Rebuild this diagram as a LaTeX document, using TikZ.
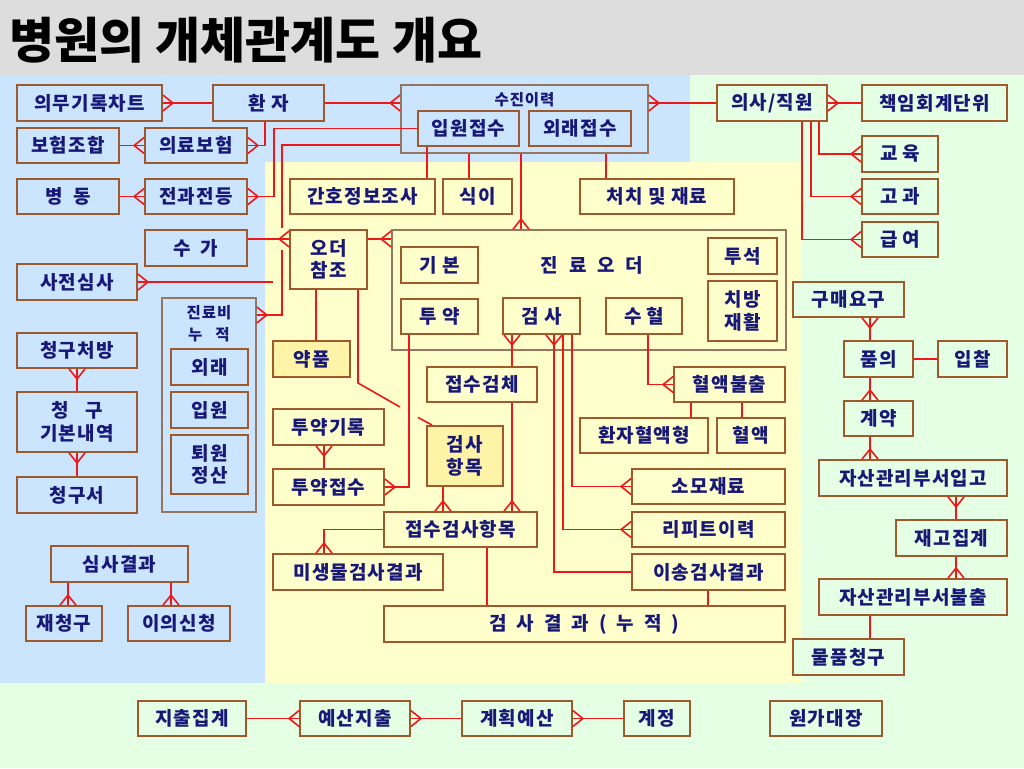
\documentclass[tikz,border=0pt]{standalone}
\usepackage{fontspec}
\newfontfamily\krfont[LetterSpace=6]{Noto Sans CJK KR}
\newfontfamily\headfont{Noto Sans CJK KR}

\definecolor{headgray}{RGB}{221,221,221}
\definecolor{bluebg}{RGB}{204,229,255}
\definecolor{yellowbg}{RGB}{255,255,204}
\definecolor{greenbg}{RGB}{228,255,228}
\definecolor{drugfill}{RGB}{255,243,168}
\definecolor{boxline}{RGB}{158,90,44}
\definecolor{frameline}{RGB}{150,118,96}
\definecolor{ink}{RGB}{24,24,120}
\definecolor{relred}{RGB}{238,24,24}

% Crow's foot for the "many" end of a link.
\pgfdeclarearrow{
  name = crow,
  setup code = {
    \pgfarrowssettipend{0pt}
    \pgfarrowssetlineend{0pt}
    \pgfarrowssetbackend{-10pt}
    \pgfarrowssetvisualbackend{-10pt}
    \pgfarrowshullpoint{0pt}{8pt}
    \pgfarrowshullpoint{0pt}{-8pt}
    \pgfarrowshullpoint{-10pt}{0pt}
  },
  drawing code = {
    \pgfpathmoveto{\pgfqpoint{0pt}{8pt}}
    \pgfpathlineto{\pgfqpoint{-10pt}{0pt}}
    \pgfpathlineto{\pgfqpoint{0pt}{-8pt}}
    \pgfusepathqstroke
  }
}

\begin{document}
\begin{tikzpicture}[x=1pt,y=-1pt,
    boxfont/.style={font=\krfont\bfseries\fontsize{19}{22.5}\selectfont},
    ebox/.style={boxfont,draw=boxline,line width=1.8pt,text=ink,inner sep=0pt,align=center},
    frame/.style={draw=frameline,line width=1.6pt,inner sep=0pt},
    tag/.style={text=ink,inner sep=0pt,align=center,font=\krfont\bfseries\fontsize{15.5}{22}\selectfont},
    rel/.style={draw=relred,line width=1.6pt}]

\useasboundingbox (0,0) rectangle (1024,768);

% Backdrop: header strip and the three zones.
\fill[headgray] (0,0) rectangle (1024,75);
\fill[greenbg] (0,75) rectangle (1024,768);
\fill[bluebg] (0,75) rectangle (690,162);
\fill[bluebg] (0,162) rectangle (265,683);
\fill[yellowbg] (265,162) rectangle (802,683);

% Title.
\node[anchor=west,inner sep=0pt,font=\headfont\bfseries\fontsize{49}{49}\selectfont] (title) at (9,40) {병원의 개체관계도 개요};

% Group frames.
\node[frame,minimum width=247,minimum height=68,
    label={[tag,anchor=north,yshift=-8pt]north:수진이력}] (visit) at (524.5,119) {};
\node[frame,minimum width=394,minimum height=120,
    label={[tag,boxfont,anchor=center,xshift=3pt,yshift=-36pt]north:{진\hspace{11pt}료\hspace{11pt}오\hspace{11pt}더}}] (order) at (589,290) {};
\node[frame,minimum width=94,minimum height=214,
    label={[tag,anchor=north,yshift=-8pt]north:{진료비\\누\hspace{13pt}적}}] (cost) at (209,405) {};

% Boxes on the blue side.
\foreach \n/\x/\y/\w/\h/\t in {
    chart/89.5/103/145/36/의무기록차트,
    patient/268.5/103/111/36/환\hspace{5pt}자,
    union/68/145.5/102/35/보험조합,
    insur/196/145.5/102/35/의료보험,
    ward/68/196.5/102/35/병\hspace{11pt}동,
    transfer/196/196.5/102/35/전과전등,
    fee/196/248/102/36/수\hspace{10pt}가,
    review/77/282/120/36/사전심사,
    claimrx/77/350.5/120/35/청구처방,
    claimbase/77/422/120/60/{청\hspace{17pt}구\\기본내역},
    claimdoc/77/495/120/36/청구서,
    result/119.5/564/137/36/심사결과,
    reclaim/64/623.5/76/35/재청구,
    objection/179/623.5/102/35/이의신청,
    outvisit/209.5/367/77/36/외래,
    invisit/209.5/410/77/36/입원,
    discharge/209.5/464.5/77/59/{퇴원\\정산}}
  \node[ebox,minimum width=\w,minimum height=\h] (\n) at (\x,\y) {\t};

% Boxes on the yellow side.
\foreach \n/\x/\y/\w/\h/\t in {
    inpat/468.5/128.5/101/35/입원접수,
    outpat/580/128.5/102/35/외래접수,
    nursing/362.5/196.5/145/35/간호정보조사,
    diet/477.5/196.5/69/35/식이,
    treat/657/196.5/154/35/처치 및 재료,
    basic/439.5/265/77/36/기\hspace{5pt}본,
    drug/439.5/316.5/77/35/투\hspace{5pt}약,
    exam/541.5/316/77/36/검\hspace{5pt}사,
    transf/644/316/76/36/수\hspace{5pt}혈,
    dialysis/742.5/256/69/36/투석,
    rehab/742.5/311/69/60/{치방\\재활},
    ordref/328.5/259.5/77/59/{오더\\참조},
    specimen/482/384.5/110/35/접수검체,
    drugrec/328.5/427/111/36/투약기록,
    drugrcv/328.5/487/111/36/투약접수,
    rcvitem/460.5/529.5/153/35/접수검사항목,
    micro/358/572/170/36/미생물검사결과,
    release/729.5/384.5/111/35/혈액불출,
    bloodtype/644/435.5/128/35/환자혈액형,
    blood/751/435.5/68/35/혈액,
    supply/708.5/486.5/153/35/소모재료,
    repeat/708.5/529.5/153/35/리피트이력,
    transres/708.5/572/153/36/이송검사결과}
  \node[ebox,minimum width=\w,minimum height=\h] (\n) at (\x,\y) {\t};

\node[ebox,fill=drugfill,minimum width=77,minimum height=36] (medicine) at (311.5,359) {약품};
\node[ebox,fill=drugfill,minimum width=76,minimum height=60] (examitem) at (465,456) {검사\\항목};
\node[ebox,minimum width=401,minimum height=36] (accres) at (584.5,624)
  {검\hspace{10pt}사\hspace{10pt}결\hspace{10pt}과\hspace{10pt}(\hspace{10pt}누\hspace{10pt}적\hspace{10pt})};

% Boxes on the green side.
\foreach \n/\x/\y/\w/\h/\t in {
    staff/772/103/110/36/{의사/직원},
    account/934.5/103/145/36/책임회계단위,
    edu/900/154/76/36/교\hspace{5pt}육,
    appraise/900/196.5/76/35/고\hspace{5pt}과,
    salary/900/239.5/76/35/급\hspace{5pt}여,
    approve/878.5/359/69/36/품의,
    bid/972.5/359/69/36/입찰,
    contract/878.5/418.5/69/35/계약,
    stockin/913/478/188/36/자산관리부서입고,
    stock/951.5/538/111/36/재고집계,
    stockout/913/597/188/36/자산관리부서불출,
    spendsum/192/718.5/108/35/지출집계,
    spend/355/718.5/110/35/예산지출,
    plan/517/718.5/110/35/계획예산,
    acct/657/718.5/66/35/계정,
    costbook/826/718.5/112/35/원가대장}
  \node[ebox,minimum width=\w,minimum height=\h] (\n) at (\x,\y) {\t};

\node[ebox,fill=greenbg,minimum width=111,minimum height=35] (purchase) at (848.5,299.5) {구매요구};
\node[ebox,fill=greenbg,minimum width=111,minimum height=36] (request) at (848.5,657) {물품청구};

% Blue side links.
\draw[rel,crow-] (chart.east) -- (patient.west);
\draw[rel,-crow] (patient.south -| 265,0) |- (insur.east);
\draw[rel,-crow] (union.east) -- (insur.west);
\draw[rel,-crow] (ward.east) -- (transfer.west);
\draw[rel,crow-] (transfer.east) -- ++(26,0) |- (inpat.west);
% cost line breaks where it passes the crow's foot of the order reference
\coordinate (costup) at (282,250);
\coordinate (costgo) at (282,228);
\draw[rel,crow-] (cost.east |- 0,315) -| (costup);
\draw[rel] (costgo) |- (visit.west |- 0,145);
\coordinate (reviewend) at (273,282);
\draw[rel,crow-] (review.east) -- (reviewend);
\draw[rel,-crow] (fee.east |- 0,239) -- (ordref.west |- 0,239);
\foreach \a/\b in {claimrx/claimbase,claimbase/claimdoc}
  \draw[rel,crow-] (\a.south) -- (\b.north);
\foreach \b/\x in {reclaim/68,objection/171}
  \draw[rel,-crow] (result.south -| \x,0) -- (\b.north -| \x,0);

% Visit history links.
\draw[rel,-crow] (patient.east) -- (patient.east -| visit.west);
\draw[rel,crow-] (visit.east |- staff.west) -- (staff.west);
\foreach \a/\b/\x in {inpat/nursing/427,visit/diet/469,visit/treat/606}
  \draw[rel] (\a.south -| \x,0) -- (\b.north -| \x,0);
\draw[rel,-crow] (visit.south -| 521,0) -- (order.north -| 521,0);

% Order links.
\draw[rel,crow-] (order.west |- 0,239) -- (ordref.east |- 0,239);
\draw[rel] (ordref.south -| 316,0) -- (medicine.north -| 316,0);
% diagonal breaks where it crosses the drug line
\coordinate (itembreak) at (400,407);
\coordinate (itemgo) at (418,417.4);
\draw[rel] (ordref.south -| 358,0) -- (358,383) -- (itembreak);
\draw[rel] (itemgo) -- ([xshift=6pt]examitem.north west);
\draw[rel,-crow] (drug.south -| 409,0) |- (drugrcv.east);
\draw[rel,crow-] (drugrec.south -| 324,0) -- (drugrcv.north -| 324,0);
\draw[rel,crow-] (exam.south -| 512,0) -- (specimen.north -| 512,0);
\foreach \a/\x in {specimen/512,examitem/443}
  \draw[rel,-crow] (\a.south -| \x,0) -- (rcvitem.north -| \x,0);
\draw[rel,-crow] (rcvitem.west) -| (micro.north -| 324,0);
\draw[rel,crow-] (exam.south -| 554,0) |- (transres.west);
\foreach \b/\x in {repeat/563,supply/572}
  \draw[rel,-crow] (exam.south -| \x,0) |- (\b.west);
\draw[rel,-crow] (transf.south -| 648,0) |- (release.west);
\foreach \a/\b/\x in {release/bloodtype/691,release/blood/742,transres/accres/708,rcvitem/accres/487}
  \draw[rel] (\a.south -| \x,0) -- (\b.north -| \x,0);

% Staff and purchasing links.
\draw[rel,crow-] (staff.east) -- (account.west);
\foreach \b/\x in {edu/819,appraise/811,salary/802}
  \draw[rel,-crow] (staff.south -| \x,0) |- (\b.west);
\draw[rel,crow-] (purchase.south -| 870,0) -- (approve.north -| 870,0);
\draw[rel] (approve.east) -- (bid.west);
\foreach \a/\b in {approve/contract,contract/stockin}
  \draw[rel,-crow] (\a.south -| 870,0) -- (\b.north -| 870,0);
\draw[rel,crow-] (stockin.south -| 956,0) -- (stock.north -| 956,0);
\draw[rel,-crow] (stock.south -| 956,0) -- (stockout.north -| 956,0);
\draw[rel] (stockout.south -| 870,0) -- (request.north -| 870,0);

% Budget links.
\draw[rel,-crow] (spendsum.east) -- (spend.west);
\draw[rel,crow-] (spend.east) -- (plan.west);
\draw[rel,crow-] (plan.east) -- (acct.west);
\end{tikzpicture}
\end{document}
